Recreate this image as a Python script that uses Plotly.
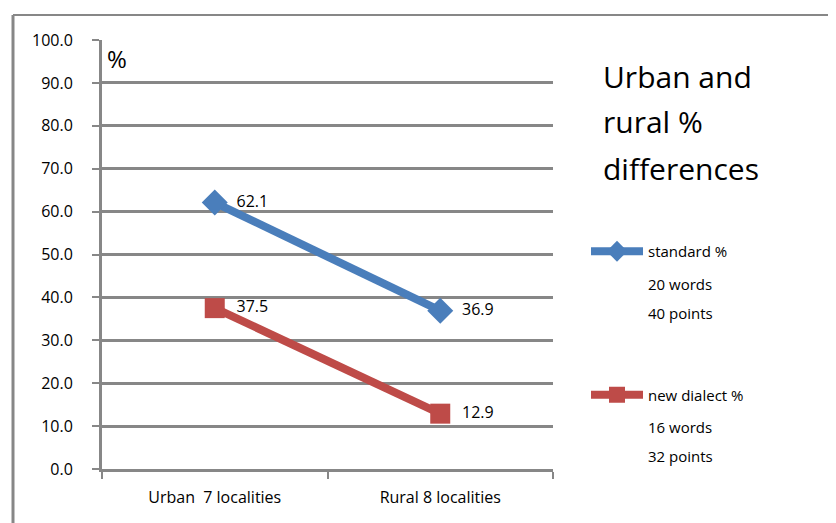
import plotly.graph_objects as go

categories = ["Urban  7 localities", "Rural 8 localities"]
standard_pct = [62.1, 36.9]
new_dialect_pct = [37.5, 12.9]
y_ticks = [0, 10, 20, 30, 40, 50, 60, 70, 80, 90, 100]

BLUE = "#4A7EBB"
RED = "#BE4B48"
GRID = "#878787"
FONT = "'Open Sans', sans-serif"

# page is offset by the body margin (8px); work in page pixels
OFF = 8
W, H = 836 - OFF, 523 - OFF
L, T = 102 - OFF, 40 - OFF
R, B = W - (553 - OFF), H - (469 - OFF)
pw, ph = W - L - R, H - T - B


def px_x(x):
    return (x - OFF - L) / pw


def px_y(y):
    return (H - B - (y - OFF)) / ph


fig = go.Figure()
fig.add_trace(go.Scatter(
    x=categories, y=standard_pct, name="standard %", legendgroup="a",
    mode="lines+markers+text", text=[f"  {v:.1f}" for v in standard_pct],
    textposition="middle right", textfont=dict(size=16, color="black", family=FONT),
    line=dict(color=BLUE, width=8),
    marker=dict(symbol="diamond", size=20, color=BLUE),
    cliponaxis=False,
))
fig.add_trace(go.Scatter(
    x=categories, y=new_dialect_pct, name="new dialect %", legendgroup="b",
    mode="lines+markers+text", text=[f"  {v:.1f}" for v in new_dialect_pct],
    textposition="middle right", textfont=dict(size=16, color="black", family=FONT),
    line=dict(color=RED, width=8),
    marker=dict(symbol="square", size=20, color=RED),
    cliponaxis=False,
))

fig.update_layout(
    width=W, height=H,
    margin=dict(l=L, r=R, t=T, b=B),
    paper_bgcolor="white", plot_bgcolor="white",
    font=dict(family=FONT, size=15, color="black"),
    legend=dict(
        x=px_x(586), y=px_y(235), xanchor="left", yanchor="top",
        itemwidth=52, tracegroupgap=121, font=dict(size=15, family=FONT),
        bgcolor="rgba(0,0,0,0)",
    ),
    xaxis=dict(
        type="category", tickson="boundaries", range=[-0.5, 1.5],
        showgrid=False, showline=True, linecolor=GRID, linewidth=3,
        ticks="outside", ticklen=7, tickwidth=2, tickcolor=GRID,
        tickfont=dict(size=16), zeroline=False, ticklabelstandoff=12,
    ),
    yaxis=dict(
        range=[0, 100], tickvals=y_ticks, tickformat=".1f",
        showgrid=True, gridcolor=GRID, gridwidth=2.5,
        showline=True, linecolor=GRID, linewidth=3,
        ticks="outside", ticklen=7, tickwidth=2, tickcolor=GRID,
        tickfont=dict(size=16), zeroline=False, ticklabelstandoff=16,
    ),
)

# outer chart frame
fig.add_shape(type="line", xref="paper", yref="paper",
              x0=px_x(13), x1=px_x(850), y0=px_y(15), y1=px_y(15),
              line=dict(color=GRID, width=2))
fig.add_shape(type="line", xref="paper", yref="paper",
              x0=px_x(13), x1=px_x(13), y0=px_y(15), y1=px_y(540),
              line=dict(color=GRID, width=3))

# "%" label
fig.add_annotation(text="%", xref="paper", yref="paper", x=px_x(105), y=px_y(40),
                   xanchor="left", yanchor="top", showarrow=False,
                   font=dict(size=24, color="black"))

# title lines
for i, line in enumerate(["Urban and", "rural %", "differences"]):
    fig.add_annotation(text=line, xref="paper", yref="paper",
                       x=px_x(601), y=px_y(76 + 46 * i), xanchor="left", yanchor="middle",
                       showarrow=False, font=dict(size=30, color="black"))

# legend sub-lines
for i, line in enumerate(["20 words", "40 points"]):
    fig.add_annotation(text=line, xref="paper", yref="paper",
                       x=px_x(646), y=px_y(284 + 29 * i), xanchor="left", yanchor="middle",
                       showarrow=False, font=dict(size=15, color="black"))
for i, line in enumerate(["16 words", "32 points"]):
    fig.add_annotation(text=line, xref="paper", yref="paper",
                       x=px_x(646), y=px_y(427 + 29 * i), xanchor="left", yanchor="middle",
                       showarrow=False, font=dict(size=15, color="black"))

fig.write_html("out.html")
